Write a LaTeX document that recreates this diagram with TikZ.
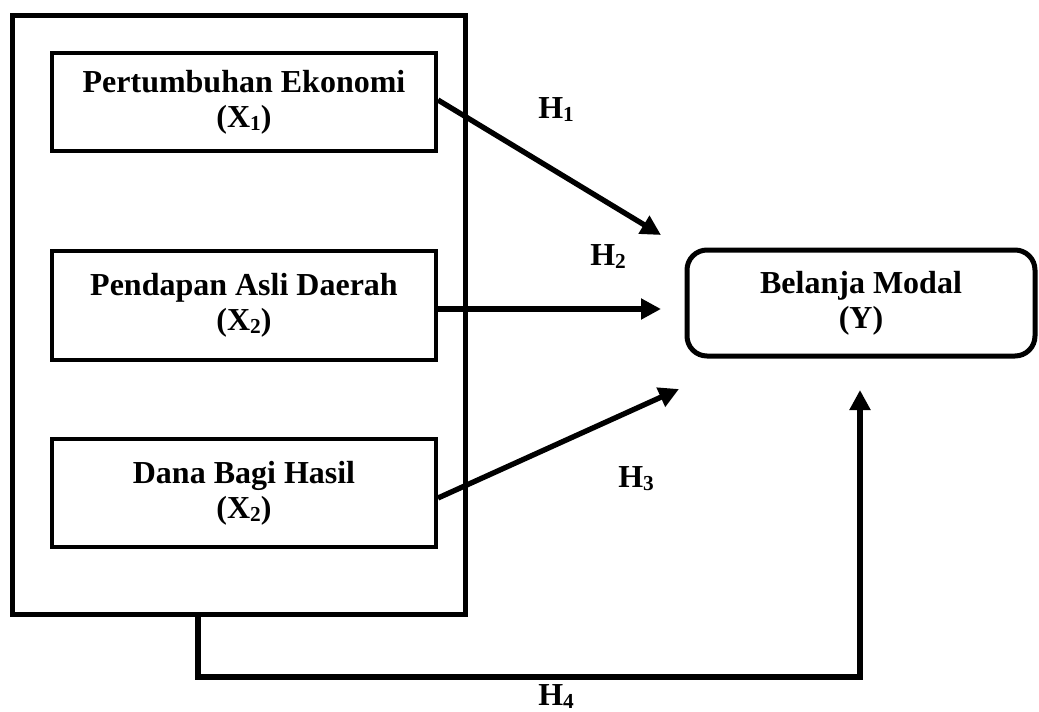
\documentclass[tikz,border=0pt]{standalone}
\usepackage{fontspec}
\setmainfont{Liberation Serif}
\usetikzlibrary{arrows.meta}
% index digit set slightly below the baseline
\newcommand\idx[1]{\raisebox{-0.1em}{\fontsize{16}{16}\selectfont #1}}
\begin{document}
\begin{tikzpicture}[x=0.75pt,y=-0.75pt,
  lbl/.style={font=\fontsize{24}{26}\selectfont\bfseries, inner sep=0pt, anchor=base west},
  varbox/.style={draw, line width=3pt, minimum width=288pt, inner sep=0pt,
    align=center, font=\fontsize{24}{26}\selectfont\bfseries},
  groupbox/.style={draw, line width=3.75pt, inner sep=0pt},
  depbox/.style={draw, line width=3.75pt, rounded corners=15pt, inner sep=0pt,
    minimum width=261pt, minimum height=79.5pt, align=center,
    font=\fontsize{24}{26}\selectfont\bfseries},
  link/.style={line width=4pt, -{Triangle[length=15pt,width=15pt]}}
]
\useasboundingbox (0,0) rectangle (1039,711);

% group of independent variables
\node[groupbox, minimum width=340pt, minimum height=449.6pt] (grp) at (238.75,314.75) {};

\node[varbox, minimum height=73.5pt] (x1) at (244,102) {Pertumbuhan Ekonomi\\(X\idx{1})};
\node[varbox, minimum height=81.75pt] (x2) at (244,305) {Pendapan Asli Daerah\\(X\idx{2})};
\node[varbox, minimum height=81pt] (x3) at (244,493) {Dana Bagi Hasil\\(X\idx{2})};

% dependent variable
\node[depbox] (y) at (861,303) {Belanja Modal\\(Y)};

% arrow end points in front of the dependent variable
\coordinate (t1) at (661,235);
\coordinate (t2) at (661,309);
\coordinate (t3) at (679,389);
\coordinate (g1) at (198,614.5);
\coordinate (g2) at (198,677);
\coordinate (g3) at (860,677);
\coordinate (t4) at (860,390);

\draw[link] ([yshift=1.5pt]x1.east) -- (t1);
\draw[link] ([yshift=-3pt]x2.east) -- (t2);
\draw[link] ([yshift=-3.75pt]x3.east) -- (t3);
\draw[link] (g1) -- (g2) -- (g3) -- (t4);

% hypothesis labels
\node[lbl] (h1) at (538,118) {H\idx{1}};
\node[lbl] (h2) at (590,265) {H\idx{2}};
\node[lbl] (h3) at (618,487) {H\idx{3}};
\node[lbl] (h4) at (538,705) {H\idx{4}};
\end{tikzpicture}
\end{document}
